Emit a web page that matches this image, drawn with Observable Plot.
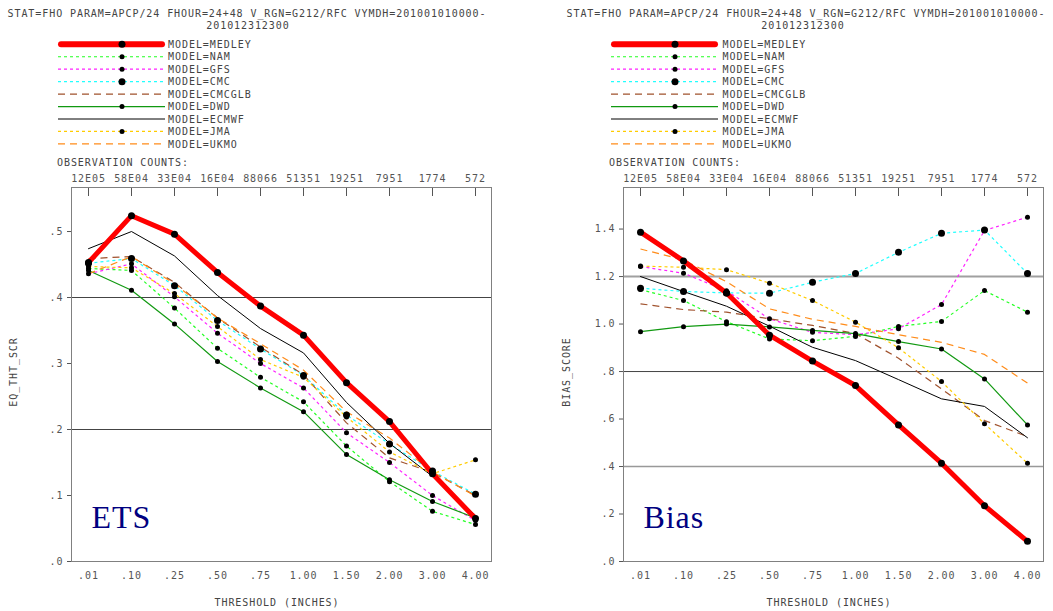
<!DOCTYPE html>
<html><head><meta charset="utf-8">
<script src="https://cdn.jsdelivr.net/npm/d3@7"></script>
<script src="https://cdn.jsdelivr.net/npm/@observablehq/plot@0.6"></script>
<style>
body{margin:0;background:#fff;}
#wrap{position:relative;width:1053px;height:611px;overflow:hidden;background:#fff;font-family:"DejaVu Sans Mono",monospace;}
#wrap > svg{position:absolute;top:0;}
.gt{position:absolute;font-size:10px;letter-spacing:0.92px;color:#444;white-space:pre;line-height:10px;}
.ctr{width:600px;text-align:center;}
.rot{transform:translate(-50%,-50%) rotate(-90deg);}
</style></head><body><div id="wrap"></div>
<script>
// ---------- data ----------
const thresholds = [".01",".10",".25",".50",".75","1.00","1.50","2.00","3.00","4.00"];
const obsCounts  = ["12E05","58E04","33E04","16E04","88066","51351","19251","7951","1774","572"];
const models     = ["MEDLEY","NAM","GFS","CMC","CMCGLB","DWD","ECMWF","JMA","UKMO"];
const titleLine1 = "STAT=FHO PARAM=APCP/24 FHOUR=24+48 V_RGN=G212/RFC VYMDH=201001010000-";
const titleLine2 = "201012312300";

// Equitable threat score
const etsMedley = [0.453, 0.524, 0.496, 0.438, 0.387, 0.343, 0.271, 0.212, 0.133, 0.065];
const etsNam    = [0.444, 0.441, 0.384, 0.323, 0.279, 0.242, 0.175, 0.121, 0.076, 0.056];
const etsGfs    = [0.436, 0.451, 0.401, 0.346, 0.300, 0.263, 0.195, 0.150, 0.100, 0.062];
const etsCmc    = [0.452, 0.459, 0.418, 0.365, 0.322, 0.282, 0.222, 0.178, 0.137, 0.102];
const etsCmcglb = [0.459, 0.462, 0.423, 0.369, 0.325, 0.283, 0.210, 0.157, 0.135, 0.100];
const etsDwd    = [0.441, 0.411, 0.360, 0.303, 0.263, 0.227, 0.162, 0.124, 0.091, 0.066];
const etsEcmwf  = [0.474, 0.500, 0.463, 0.403, 0.353, 0.316, 0.241, 0.179, 0.129, 0.070];
const etsJma    = [0.447, 0.445, 0.406, 0.356, 0.306, 0.279, 0.219, 0.166, 0.133, 0.154];
const etsUkmo   = [0.436, 0.462, 0.421, 0.369, 0.330, 0.290, 0.227, 0.187, 0.136, 0.099];

// Bias score
const biasMedley = [1.387, 1.266, 1.131, 0.953, 0.844, 0.741, 0.575, 0.414, 0.235, 0.085];
const biasNam    = [1.145, 1.099, 1.010, 0.937, 0.930, 0.948, 0.990, 1.011, 1.141, 1.050];
const biasGfs    = [1.242, 1.214, 1.140, 1.022, 0.965, 0.955, 0.980, 1.082, 1.394, 1.450];
const biasCmc    = [1.151, 1.137, 1.131, 1.130, 1.176, 1.213, 1.302, 1.382, 1.396, 1.213];
const biasCmcglb = [1.085, 1.061, 1.050, 1.022, 0.994, 0.960, 0.856, 0.727, 0.594, 0.526];
const biasDwd    = [0.968, 0.989, 1.000, 0.988, 0.973, 0.960, 0.926, 0.895, 0.769, 0.575];
const biasEcmwf  = [1.200, 1.137, 1.075, 0.991, 0.902, 0.846, 0.766, 0.685, 0.653, 0.521];
const biasJma    = [1.244, 1.239, 1.229, 1.172, 1.099, 1.008, 0.900, 0.758, 0.580, 0.414];
const biasUkmo   = [1.316, 1.270, 1.178, 1.064, 1.020, 0.990, 0.955, 0.923, 0.872, 0.751];

const etsTicks  = [0, 0.1, 0.2, 0.3, 0.4, 0.5];
const biasTicks = [0, 0.2, 0.4, 0.6, 0.8, 1.0, 1.2, 1.4];
const etsGrid   = [0.2, 0.4];
const biasGrid  = [0.4, 0.8, 1.2];

// ---------- styles ----------
const sty = {
  MEDLEY: {color:"#ff0000", width:5,   dash:null,  r:3.5},
  NAM:    {color:"#22ff22", width:1.2, dash:"3,3", r:2.5},
  GFS:    {color:"#ff22ff", width:1.2, dash:"3,3", r:2.5},
  CMC:    {color:"#22ffff", width:1.2, dash:"3,3", r:3.5},
  CMCGLB: {color:"#a0522d", width:1.2, dash:"7,5", r:0},
  DWD:    {color:"#119911", width:1.2, dash:null,  r:2.5},
  ECMWF:  {color:"#000000", width:1,   dash:null,  r:0},
  JMA:    {color:"#ffcc00", width:1.2, dash:"3,3", r:2.5},
  UKMO:   {color:"#ff8c1a", width:1.2, dash:"7,5", r:0}
};
const gridStyle = {0.2:["#444",1], 0.4:["#444",1]};
const gridStyleBias = {0.4:["#999",1.5], 0.8:["#444",1], 1.2:["#a0a0a0",2]};

const yFmt = d => d === 0 ? ".0" : d.toFixed(1).replace(/^0/, "");

function rowsOf(series) {
  const rows = [];
  models.forEach((m, i) => series[i].forEach((v, j) => rows.push({model: m, t: thresholds[j], v})));
  return rows;
}

function panel({series, yMax, ticks, grid, gstyle, tag, marginLeft, marginRight, width}) {
  const rows = rowsOf(series);
  const order = models.slice(1).concat(["MEDLEY"]);
  const marks = [];
  for (const g of grid) {
    marks.push(Plot.ruleY([g], {stroke: gstyle[g][0], strokeWidth: gstyle[g][1]}));
  }
  for (const m of order) {
    const s = sty[m];
    marks.push(Plot.line(rows.filter(d => d.model === m), {
      x: "t", y: "v", stroke: s.color, strokeWidth: s.width,
      strokeDasharray: s.dash, strokeLinejoin: "round", strokeLinecap: s.dash ? "butt" : "round"
    }));
  }
  for (const m of order) {
    if (!sty[m].r) continue;
    marks.push(Plot.dot(rows.filter(d => d.model === m), {x: "t", y: "v", r: sty[m].r, fill: "black"}));
  }
  marks.push(Plot.frame({stroke: "#808080"}));
  marks.push(Plot.axisX({anchor: "top", tickSize: -8, tickPadding: 14, color: "#555", label: null,
    tickFormat: d => obsCounts[thresholds.indexOf(d)]}));
  marks.push(Plot.axisX({anchor: "bottom", tickSize: 0, tickPadding: 10, color: "#555", label: null}));
  marks.push(Plot.axisY({ticks, tickFormat: yFmt, tickSize: 4, tickPadding: 4, color: "#555", label: null}));
  marks.push(Plot.text([tag], {text: d => d, frameAnchor: "bottom-left", dx: 20, dy: -34,
    textAnchor: "start", lineAnchor: "bottom", fontFamily: "Liberation Serif, Times New Roman, serif",
    fontSize: 32, fill: "#000080"}));
  return Plot.plot({
    width, height: 611, marginTop: 187, marginBottom: 50, marginLeft, marginRight,
    x: {type: "point", domain: thresholds, padding: 0.33},
    y: {domain: [0, yMax]},
    style: "font-family:'DejaVu Sans Mono',monospace;font-size:10px;letter-spacing:0.92px;color:#555;background:transparent;overflow:visible;",
    marks
  });
}

const wrap = document.getElementById("wrap");
const left = panel({
  series: [etsMedley, etsNam, etsGfs, etsCmc, etsCmcglb, etsDwd, etsEcmwf, etsJma, etsUkmo],
  yMax: 0.5667, ticks: etsTicks, grid: etsGrid, gstyle: gridStyle, tag: "ETS",
  width: 527, marginLeft: 71, marginRight: 36
});
left.style.left = "0px";
wrap.appendChild(left);
const right = panel({
  series: [biasMedley, biasNam, biasGfs, biasCmc, biasCmcglb, biasDwd, biasEcmwf, biasJma, biasUkmo],
  yMax: 1.575, ticks: biasTicks, grid: biasGrid, gstyle: gridStyleBias, tag: "Bias",
  width: 526, marginLeft: 96, marginRight: 10
});
right.style.left = "527px";
wrap.appendChild(right);

// ---------- header text ----------
function addText(txt, x, y, cls) {
  const d = document.createElement("div");
  d.className = "gt " + (cls || "");
  d.textContent = txt;
  d.style.left = x + "px";
  d.style.top = y + "px";
  wrap.appendChild(d);
  return d;
}
for (const [c1, c2, obsX, yTitle, yTitleX, xTitleX] of [[247, 248, 57, "EQ_THT_SCR", 14, 277], [806, 803, 609, "BIAS_SCORE", 567, 829]]) {
  addText(titleLine1, c1 - 300, 8.5, "ctr");
  addText(titleLine2, c2 - 300, 21, "ctr");
  addText("OBSERVATION COUNTS:", obsX, 157.5);
  addText(yTitle, yTitleX, 372, "rot");
  addText("THRESHOLD (INCHES)", xTitleX - 300, 597.5, "ctr");
}

// ---------- legends ----------
const lg = d3.select(wrap).append("svg")
  .attr("width", 1053).attr("height", 155)
  .style("position", "absolute").style("left", "0px").style("top", "0px")
  .style("font-family", "'DejaVu Sans Mono',monospace").style("font-size", "10px")
  .style("letter-spacing", "0.95px");
for (const [x1, x2, lx] of [[58, 165, 168], [611, 718, 722.5]]) {
  models.forEach((m, i) => {
    const y = 44.3 + i * 12.45;
    const s = sty[m];
    lg.append("line").attr("x1", x1 + (m === "MEDLEY" ? 3 : 0)).attr("x2", x2 - (m === "MEDLEY" ? 3 : 0))
      .attr("y1", y).attr("y2", y)
      .attr("stroke", s.color).attr("stroke-width", m === "MEDLEY" ? 6 : s.width)
      .attr("stroke-dasharray", s.dash).attr("stroke-linecap", m === "MEDLEY" ? "round" : "butt");
    if (s.r) lg.append("circle").attr("cx", x1 + 64).attr("cy", y).attr("r", s.r).attr("fill", "black");
    lg.append("text").attr("x", lx).attr("y", y + 3.6).attr("fill", "#444").text("MODEL=" + m);
  });
}
</script></body></html>
